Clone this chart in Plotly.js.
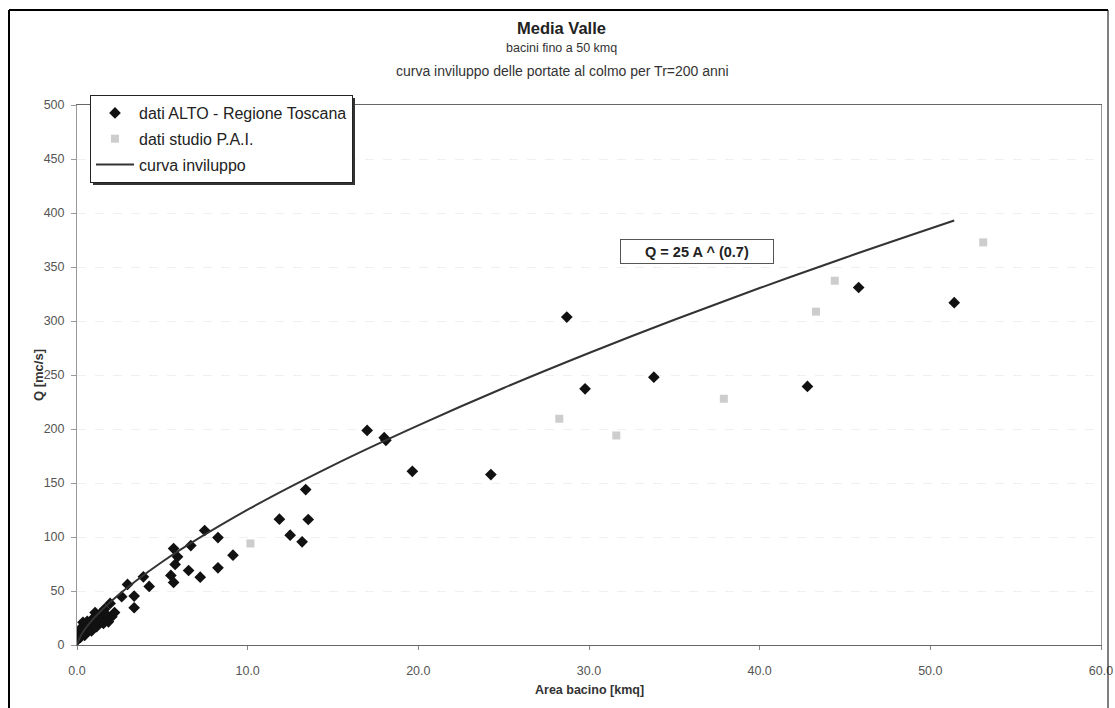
<!DOCTYPE html>
<html>
<head>
<meta charset="utf-8">
<script src="https://cdn.plot.ly/plotly-3.0.1.min.js"></script>
<style>
html,body{margin:0;padding:0;background:#fff;}
#chart{width:1115px;height:708px;}
</style>
</head>
<body>
<div id="chart"></div>
<script>
// ---- data ----
const altoArea = [0.05,0.1,0.15,0.2,0.25,0.3,0.35,0.4,0.45,0.5,0.55,0.6,0.7,0.75,0.85,0.9,1.0,1.06,1.15,1.2,1.35,1.45,1.55,1.6,1.74,1.84,1.94,2.04,2.2,2.62,2.96,3.35,3.35,3.89,4.23,5.5,5.66,5.66,5.75,5.89,6.54,6.67,7.22,7.48,8.26,8.26,9.14,11.86,12.49,13.19,13.4,13.55,17.0,18.0,18.1,19.65,24.25,28.7,29.77,33.8,42.8,45.8,51.4];
const altoQ    = [5,9,13,7,16,11,21,14,9,18,12,22,15,19,13,24,17,30,17,22,28.7,24,20,33,27.7,21.5,38.5,26.2,30,44.7,56.1,45.3,34.5,63.1,54.2,64.4,57.9,89.3,74.6,81.6,69,92.1,62.8,106,99.5,71.5,83.2,116.5,101.7,95.5,143.9,116.2,198.7,192,189.5,160.8,157.8,303.6,237.2,248,239.4,331,317];

const paiArea = [10.16,28.26,31.6,37.9,43.3,44.4,53.1];
const paiQ    = [94,209.5,194,228,308.7,337.3,372.8];

const curveArea = [0,0.2,0.5,1,2,5,10,15,20,25,30,35,40,45,51.4];
const curveQ    = [0,8.1,15.4,25,40.6,77.1,125.3,166.4,203.4,238.0,270.4,301.2,330.5,358.6,393.0];

const xTicks = [0,10,20,30,40,50,60];
const yTicks = [0,50,100,150,200,250,300,350,400,450,500];

const titleMain = "Media Valle";
const titleSub1 = "bacini fino a 50 kmq";
const titleSub2 = "curva inviluppo delle portate al colmo per Tr=200 anni";
const xTitle = "Area bacino [kmq]";
const yTitle = "Q [mc/s]";
const formulaText = "Q = 25 A ^ (0.7)";
const names = ["dati ALTO - Regione Toscana","dati studio P.A.I.","curva inviluppo"];

// ---- layout helpers (pixel -> paper) ----
const L = 77, R = 1101, T = 105, B = 645;
const W = R - L, H = B - T;
const px = v => (v - L) / W;
const py = v => (B - v) / H;

const FONT = '"Liberation Sans", Arial, sans-serif';

const traces = [
  {x: altoArea, y: altoQ, type: 'scatter', mode: 'markers', name: names[0], legendgroup: 'a',
   marker: {symbol: 'diamond', size: 9, color: '#111'}},
  {x: paiArea, y: paiQ, type: 'scatter', mode: 'markers', name: names[1], legendgroup: 'b',
   marker: {symbol: 'square', size: 8, color: '#cdcdcd'}},
  {x: curveArea, y: curveQ, type: 'scatter', mode: 'lines', name: names[2], legendgroup: 'c',
   line: {color: '#333', width: 2, shape: 'spline'}}
];

const layout = {
  width: 1115, height: 708,
  margin: {l: L, r: 1115 - R, t: T, b: 708 - B, pad: 0},
  paper_bgcolor: '#fff', plot_bgcolor: '#fff',
  font: {family: FONT, size: 12, color: '#333'},
  showlegend: true,
  legend: {
    x: px(90), y: py(95), xanchor: 'left', yanchor: 'top',
    bgcolor: '#fff', bordercolor: '#222', borderwidth: 1,
    font: {family: FONT, size: 16, color: '#222'},
    tracegroupgap: 2, itemwidth: 38
  },
  xaxis: {
    range: [0, 60], tickvals: xTicks, tickformat: '.1f',
    showgrid: false, zeroline: false,
    showline: true, linecolor: '#666', linewidth: 1, mirror: true,
    ticks: 'outside', ticklen: 4, tickcolor: '#888',
    ticklabelstandoff: 10,
    tickfont: {family: FONT, size: 12.5, color: '#555'}
  },
  yaxis: {
    range: [0, 500], tickvals: yTicks,
    showgrid: true, gridcolor: '#f0f0f0', griddash: 'dash',
    zeroline: false,
    showline: true, linecolor: '#999', linewidth: 1, mirror: true,
    ticks: 'outside', ticklen: 5, tickcolor: '#999',
    ticklabelstandoff: 4,
    tickfont: {family: FONT, size: 12.5, color: '#555'}
  },
  annotations: [
    {text: '<b>' + titleMain + '</b>', xref: 'paper', yref: 'paper', x: px(561), y: py(28),
     xanchor: 'center', yanchor: 'middle', showarrow: false, font: {family: FONT, size: 16.5, color: '#222'}},
    {text: titleSub1, xref: 'paper', yref: 'paper', x: px(561), y: py(48),
     xanchor: 'center', yanchor: 'middle', showarrow: false, font: {family: FONT, size: 12.5, color: '#333'}},
    {text: titleSub2, xref: 'paper', yref: 'paper', x: px(562), y: py(71),
     xanchor: 'center', yanchor: 'middle', showarrow: false, font: {family: FONT, size: 14, color: '#333'}},
    {text: '<b>' + xTitle + '</b>', xref: 'paper', yref: 'paper', x: 0.5, y: py(690),
     xanchor: 'center', yanchor: 'middle', showarrow: false, font: {family: FONT, size: 12.5, color: '#333'}},
    {text: '<b>' + yTitle + '</b>', xref: 'paper', yref: 'paper', x: px(38), y: py(375),
     xanchor: 'center', yanchor: 'middle', textangle: -90, showarrow: false, font: {family: FONT, size: 13, color: '#333'}},
    {text: '<b>' + formulaText + '</b>', xref: 'x', yref: 'y', x: 36.35, y: 364.6,
     xanchor: 'center', yanchor: 'middle', showarrow: false,
     width: 146, height: 17,
     bgcolor: '#fff', bordercolor: '#555', borderwidth: 1, borderpad: 3,
     font: {family: FONT, size: 14.5, color: '#222'}}
  ],
  shapes: [
    // outer frame
    {type: 'line', xref: 'paper', yref: 'paper', x0: px(9), x1: px(9), y0: py(10), y1: py(712), line: {color: '#000', width: 2}},
    {type: 'line', xref: 'paper', yref: 'paper', x0: px(9), x1: px(1108), y0: py(10), y1: py(10), line: {color: '#000', width: 2}},
    {type: 'line', xref: 'paper', yref: 'paper', x0: px(1108), x1: px(1108), y0: py(10), y1: py(712), line: {color: '#000', width: 1}}
  ]
};

Plotly.newPlot('chart', traces, layout, {displayModeBar: false, staticPlot: true}).then(gd => {
  // legend shadow: place a dark rectangle offset behind the legend box
  const bg = gd.querySelector('.legend .bg');
  if (bg) {
    const w = parseFloat(bg.getAttribute('width'));
    const h = parseFloat(bg.getAttribute('height'));
    const x0 = 90, y0 = 95;
    Plotly.relayout(gd, {shapes: layout.shapes.concat([
      {type: 'rect', xref: 'paper', yref: 'paper', layer: 'above',
       x0: px(x0 + 3), x1: px(x0 + w + 3), y0: py(y0 + 3), y1: py(y0 + h + 3),
       fillcolor: '#333', line: {width: 0}}
    ])});
  }
});
</script>
</body>
</html>
